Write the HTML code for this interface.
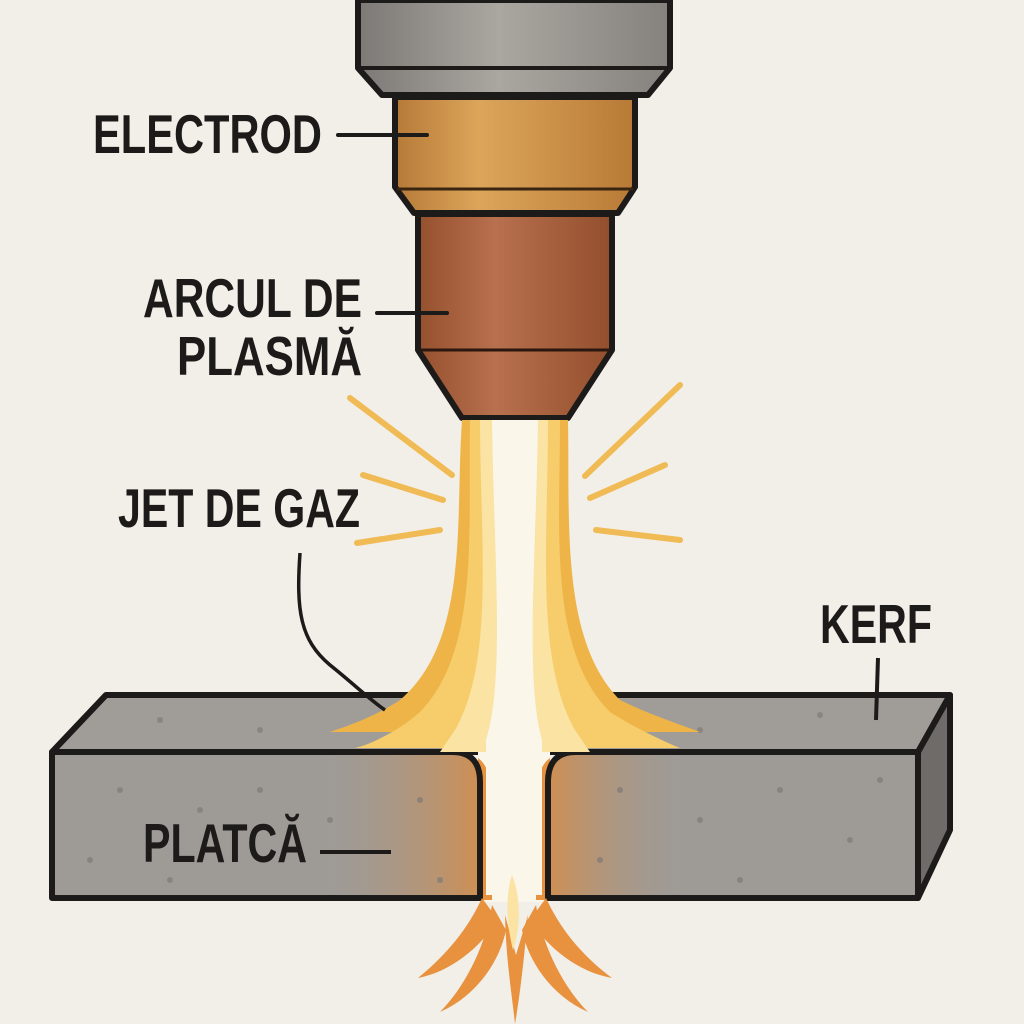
<!DOCTYPE html>
<html><head><meta charset="utf-8"><style>
html,body{margin:0;padding:0;background:#f2efe9;}
svg{display:block}
text{font-family:"Liberation Sans",sans-serif;font-weight:bold;fill:#1c1b1a}
</style></head><body>
<svg width="1024" height="1024" viewBox="0 0 1024 1024" xmlns="http://www.w3.org/2000/svg">
<defs>
<linearGradient id="gray" x1="0" x2="1"><stop offset="0" stop-color="#7c7976"/><stop offset="0.45" stop-color="#aaa6a0"/><stop offset="1" stop-color="#85817d"/></linearGradient>
<linearGradient id="brass" x1="0" x2="1"><stop offset="0" stop-color="#b67a38"/><stop offset="0.35" stop-color="#dca55a"/><stop offset="1" stop-color="#b87a36"/></linearGradient>
<linearGradient id="copper" x1="0" x2="1"><stop offset="0" stop-color="#95502e"/><stop offset="0.4" stop-color="#b8704e"/><stop offset="1" stop-color="#934f2d"/></linearGradient>
<linearGradient id="heatL" x1="0" x2="1"><stop offset="0.6" stop-color="#9d9a96" stop-opacity="0"/><stop offset="1" stop-color="#e08a3a" stop-opacity="0.75"/></linearGradient>
<linearGradient id="heatR" x1="1" x2="0"><stop offset="0.6" stop-color="#9d9a96" stop-opacity="0"/><stop offset="1" stop-color="#e08a3a" stop-opacity="0.75"/></linearGradient>
</defs>

<!-- torch -->
<path d="M358,0 H670 V68 L648,95 H382 L358,68 Z" fill="url(#gray)" stroke="#1c1b1a" stroke-width="6" stroke-linejoin="round"/>
<line x1="360" y1="68" x2="668" y2="68" stroke="#1c1b1a" stroke-width="4"/>
<path d="M395,97 H635 V187 L618,213 H414 L395,187 Z" fill="url(#brass)" stroke="#1c1b1a" stroke-width="6" stroke-linejoin="round"/>
<line x1="397" y1="189" x2="633" y2="189" stroke="#3a2510" stroke-width="3"/>
<path d="M418,214 H612 V350 L568,418 H462 L418,350 Z" fill="url(#copper)" stroke="#1c1b1a" stroke-width="6" stroke-linejoin="round"/>
<line x1="420" y1="350" x2="610" y2="350" stroke="#2a1710" stroke-width="3"/>

<!-- sparks rays -->
<g stroke="#f0bb55" stroke-width="6" stroke-linecap="round">
<line x1="350" y1="398" x2="452" y2="475"/>
<line x1="363" y1="475" x2="443" y2="500"/>
<line x1="357" y1="543" x2="440" y2="530"/>
<line x1="680" y1="385" x2="585" y2="476"/>
<line x1="665" y1="465" x2="590" y2="498"/>
<line x1="680" y1="540" x2="596" y2="530"/>
</g>

<!-- plate top face -->
<path d="M52,752 L106,695 H950 L918,752 Z" fill="#a09d99" stroke="#1c1b1a" stroke-width="6" stroke-linejoin="round"/>
<!-- right side -->
<path d="M918,752 L950,695 V830 L918,898 Z" fill="#6e6b68" stroke="#1c1b1a" stroke-width="6" stroke-linejoin="round"/>

<!-- slot interior -->
<rect x="478" y="752" width="72" height="150" fill="#fbf6ea"/>
<path d="M478,758 Q492,768 492,800 V900 L478,900 Z" fill="#e8913e"/>
<path d="M550,758 Q536,768 536,800 V900 L550,900 Z" fill="#e8913e"/>

<!-- front faces -->
<path d="M52,752 H452 Q480,752 480,782 V898 H52 Z" fill="#9e9b97"/>
<path d="M52,752 H452 Q480,752 480,782 V898 H52 Z" fill="url(#heatL)" stroke="#1c1b1a" stroke-width="6" stroke-linejoin="round"/>
<path d="M918,752 H576 Q548,752 548,782 V898 H918 Z" fill="#9e9b97"/>
<path d="M918,752 H576 Q548,752 548,782 V898 H918 Z" fill="url(#heatR)" stroke="#1c1b1a" stroke-width="6" stroke-linejoin="round"/>
<g fill="#7d7a77" opacity="0.7">
<circle cx="120" cy="790" r="3"/><circle cx="200" cy="810" r="3"/><circle cx="90" cy="860" r="3"/><circle cx="260" cy="790" r="3"/><circle cx="330" cy="820" r="3"/><circle cx="420" cy="800" r="3"/><circle cx="440" cy="880" r="3"/><circle cx="170" cy="880" r="3"/><circle cx="620" cy="790" r="3"/><circle cx="700" cy="820" r="3"/><circle cx="780" cy="790" r="3"/><circle cx="850" cy="840" r="3"/><circle cx="600" cy="860" r="3"/><circle cx="740" cy="880" r="3"/><circle cx="880" cy="780" r="3"/><circle cx="160" cy="720" r="3"/><circle cx="820" cy="715" r="3"/><circle cx="700" cy="730" r="3"/><circle cx="260" cy="730" r="3"/>
</g>

<!-- plasma jet -->
<path d="M462,420 C455,520 470,640 400,700 C370,720 335,730 330,732 L700,732 C690,728 650,715 620,700 C560,640 570,520 568,420 Z" fill="#eeb448"/>
<path d="M470,420 C468,530 480,650 420,712 C400,730 370,745 355,748 L680,748 C660,740 630,725 610,712 C548,650 560,530 560,420 Z" fill="#f6cd6a"/>
<path d="M480,420 C480,540 495,660 455,730 L440,752 H590 L575,730 C535,660 548,540 548,420 Z" fill="#fae3a3"/>
<path d="M492,420 C494,560 505,680 486,740 V895 H542 V740 C525,680 536,560 538,420 Z" fill="#fbf6ea"/>

<!-- bottom sparks -->
<g fill="#e8913e">
<path d="M482,898 C465,935 440,960 418,978 C450,972 480,948 498,920 Z"/>
<path d="M492,905 C485,950 462,990 440,1012 C478,995 500,960 506,930 Z"/>
<path d="M505,915 C506,960 512,995 515,1024 C520,995 524,960 528,915 L516,955 Z"/>
<path d="M546,898 C563,935 588,960 612,978 C578,972 548,948 530,920 Z"/>
<path d="M536,905 C543,950 566,990 588,1012 C550,995 528,960 522,930 Z"/>
</g>
<path d="M512,875 C504,900 508,930 513,950 C520,930 522,900 512,875 Z" fill="#fae3a3"/>

<!-- labels -->
<text x="93" y="153" font-size="55" textLength="229" lengthAdjust="spacingAndGlyphs">ELECTROD</text>
<line x1="338" y1="135" x2="427" y2="135" stroke="#1c1b1a" stroke-width="4" stroke-linecap="round"/>
<text x="143" y="317" font-size="55" textLength="219" lengthAdjust="spacingAndGlyphs">ARCUL DE</text>
<text x="177" y="375" font-size="55" textLength="185" lengthAdjust="spacingAndGlyphs">PLASMĂ</text>
<line x1="377" y1="313" x2="447" y2="313" stroke="#1c1b1a" stroke-width="4" stroke-linecap="round"/>
<text x="118" y="527" font-size="55" textLength="242" lengthAdjust="spacingAndGlyphs">JET DE GAZ</text>
<path d="M300,553 C296,610 300,640 330,665 C355,685 370,700 385,710" fill="none" stroke="#1c1b1a" stroke-width="3.5"/>
<text x="820" y="643" font-size="55" textLength="112" lengthAdjust="spacingAndGlyphs">KERF</text>
<line x1="878" y1="658" x2="876" y2="720" stroke="#1c1b1a" stroke-width="4"/>
<text x="143" y="862" font-size="55" textLength="164" lengthAdjust="spacingAndGlyphs">PLATCĂ</text>
<line x1="320" y1="852" x2="391" y2="852" stroke="#1c1b1a" stroke-width="4"/>
</svg>
</body></html>
